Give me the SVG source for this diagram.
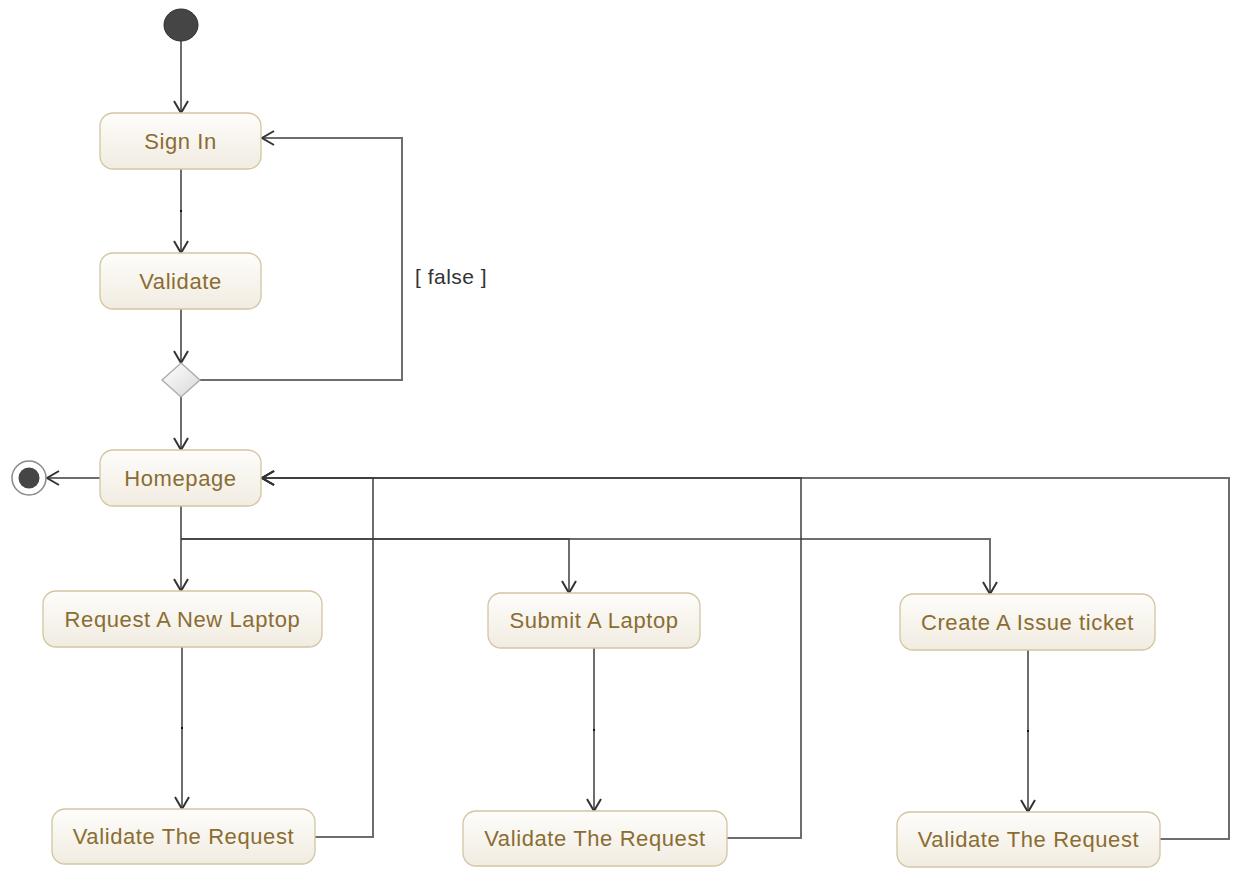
<svg xmlns="http://www.w3.org/2000/svg" width="1233" height="869" viewBox="0 0 1233 869">
  <style>
    .act { fill: url(#actFill); stroke: #d3c5a2; stroke-width: 1.3; }
    .lbl { font-family: "Liberation Sans", Arial, sans-serif; font-size: 22px; fill: #8a6d33; text-anchor: middle; letter-spacing: 0.6px; }
    .guard { font-family: "Liberation Sans", Arial, sans-serif; font-size: 21px; fill: #333; letter-spacing: 0.5px; }
    .flow { fill: none; stroke: #3c3c3c; stroke-opacity: 0.75; stroke-width: 2; marker-end: url(#open); }
    .seg { fill: none; stroke: #3c3c3c; stroke-opacity: 0.75; stroke-width: 2; }
  </style>
  <defs>
    <linearGradient id="actFill" x1="0" y1="0" x2="0" y2="1">
      <stop offset="0" stop-color="#fefdfb"/>
      <stop offset="1" stop-color="#f1ece1"/>
    </linearGradient>
    <linearGradient id="decFill" x1="0" y1="0" x2="1" y2="1">
      <stop offset="0" stop-color="#ffffff"/>
      <stop offset="1" stop-color="#d8d8d8"/>
    </linearGradient>
    <marker id="open" markerUnits="userSpaceOnUse" markerWidth="20" markerHeight="20" viewBox="0 0 20 20" refX="14" refY="10" orient="auto">
      <path d="M2,3 L14,10 L2,17" fill="none" stroke="#333" stroke-width="2"/>
    </marker>
  </defs>

  <!-- control flows -->
  <g id="connectors">
    <path class="flow" d="M181,41 V113"/>
    <path class="flow" d="M181,169 V253"/>
    <path d="M180,211 h2" stroke="#111" stroke-width="2"/>
    <path class="flow" d="M181,309 V363"/>
    <path class="flow" d="M181,397 V450"/>
    <path class="flow" d="M200,380 H402 V138 H262"/>
    <path class="flow" d="M100,478 H47"/>
    <!-- fork out of Homepage -->
    <path class="seg" d="M181,506 V539"/>
    <path class="flow" d="M181,539 V591"/>
    <path class="flow" d="M181,539 H569 V593"/>
    <path class="flow" d="M181,539 H990 V594"/>
    <!-- activity to validation -->
    <path class="flow" d="M182,647 V809"/>
    <path d="M181,728 h2" stroke="#111" stroke-width="2"/>
    <path class="flow" d="M594,648 V811"/>
    <path d="M593,730 h2" stroke="#111" stroke-width="2"/>
    <path class="flow" d="M1028,650 V812"/>
    <path d="M1027,731 h2" stroke="#111" stroke-width="2"/>
    <!-- validation back to Homepage -->
    <path class="flow" d="M315,837 H373 V478 H262"/>
    <path class="flow" d="M727,838 H801 V478 H262"/>
    <path class="flow" d="M1160,839 H1229 V478 H262"/>
  </g>

  <g id="start">
    <ellipse cx="181" cy="25" rx="17" ry="16" fill="#454545" stroke="#2e2e2e" stroke-width="1"/>
  </g>

  <g id="end">
    <circle cx="29" cy="478" r="17" fill="#ffffff" stroke="#8a8a8a" stroke-width="1.5"/>
    <circle cx="29" cy="478" r="10.5" fill="#454545"/>
  </g>

  <g id="sign-in">
    <rect class="act" x="100" y="113" width="161" height="56" rx="13"/>
    <text class="lbl" x="180.5" y="149">Sign In</text>
  </g>

  <g id="validate">
    <rect class="act" x="100" y="253" width="161" height="56" rx="13"/>
    <text class="lbl" x="180.5" y="289">Validate</text>
  </g>

  <g id="decision">
    <path d="M181,363 L200,380 L181,397 L162,380 Z" fill="url(#decFill)" stroke="#a8a8a8" stroke-width="1.3"/>
    <text class="guard" x="415" y="284">[ false ]</text>
  </g>

  <g id="homepage">
    <rect class="act" x="100" y="450" width="161" height="56" rx="13"/>
    <text class="lbl" x="180.5" y="486">Homepage</text>
  </g>

  <g id="request-laptop">
    <rect class="act" x="43" y="591" width="279" height="56" rx="13"/>
    <text class="lbl" x="182.5" y="627">Request A New Laptop</text>
  </g>

  <g id="submit-laptop">
    <rect class="act" x="488" y="593" width="212" height="55" rx="13"/>
    <text class="lbl" x="594" y="628">Submit A Laptop</text>
  </g>

  <g id="issue-ticket">
    <rect class="act" x="900" y="594" width="255" height="56" rx="13"/>
    <text class="lbl" x="1027.5" y="630">Create A Issue ticket</text>
  </g>

  <g id="validate-request-1">
    <rect class="act" x="52" y="809" width="263" height="55" rx="13"/>
    <text class="lbl" x="183.5" y="844">Validate The Request</text>
  </g>

  <g id="validate-request-2">
    <rect class="act" x="463" y="811" width="264" height="55" rx="13"/>
    <text class="lbl" x="595" y="846">Validate The Request</text>
  </g>

  <g id="validate-request-3">
    <rect class="act" x="897" y="812" width="263" height="55" rx="13"/>
    <text class="lbl" x="1028.5" y="847">Validate The Request</text>
  </g>
</svg>
